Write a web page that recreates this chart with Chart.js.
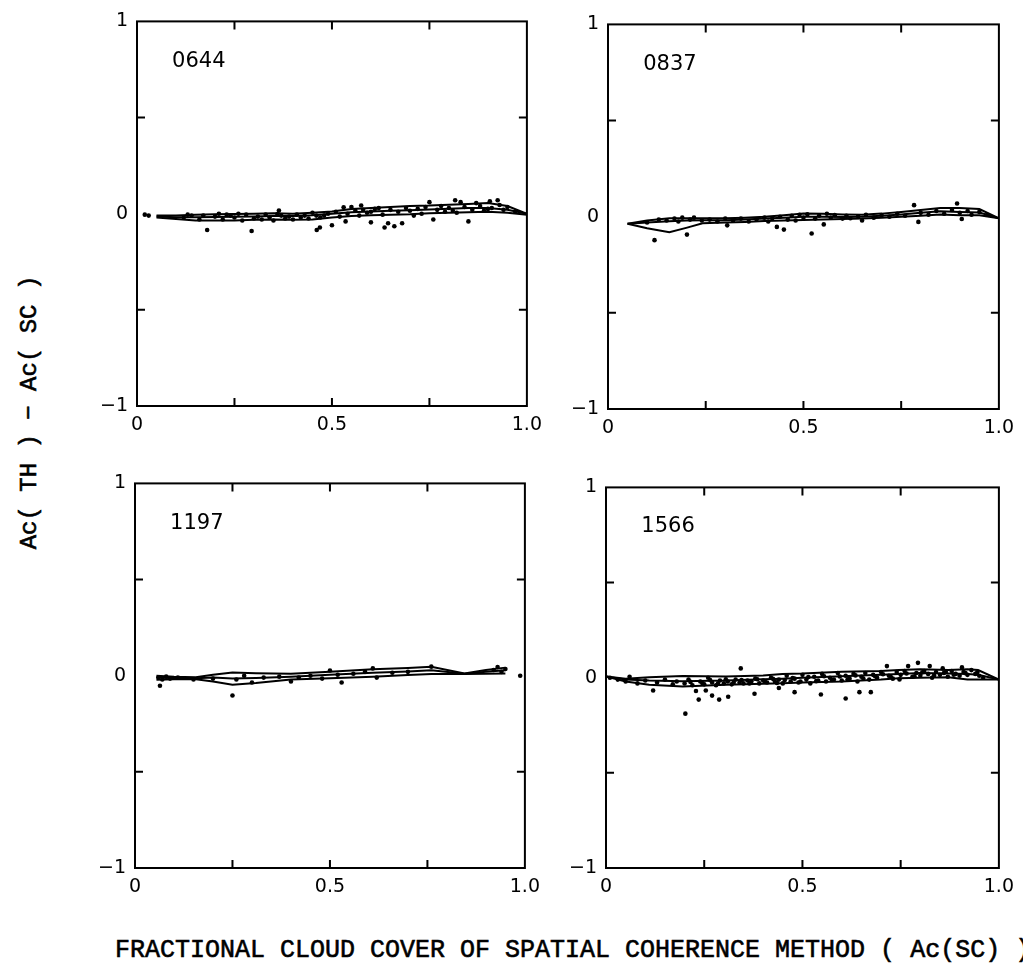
<!DOCTYPE html>
<html>
<head>
<meta charset="utf-8">
<script src="https://cdn.jsdelivr.net/npm/chart.js@4.4.1/dist/chart.umd.min.js"></script>
<style>
  body { margin: 0; background: #fff; overflow: hidden; width: 1023px; height: 973px; position: relative; }
  canvas { position: absolute; }
  .title { position: absolute; font-family: "Liberation Mono", monospace; font-size: 25px; line-height: 25px; color: #000; white-space: nowrap; -webkit-text-stroke: 0.6px #000; }
</style>
</head>
<body>
<canvas id="c0644"></canvas>
<canvas id="c0837"></canvas>
<canvas id="c1197"></canvas>
<canvas id="c1566"></canvas>
<div class="title" id="xtitle" style="left:115px; top:938px;">FRACTIONAL CLOUD COVER OF SPATIAL COHERENCE METHOD ( Ac(SC) )</div>
<div class="title" id="ytitle" style="left:-171px; top:400px; width:400px; text-align:center; font-size:24px; transform:rotate(-90deg);">Ac( TH ) &minus; Ac( SC )</div>
<script>
// tick marks
const xMinor = [0.25, 0.5, 0.75];
const yMinor = [-0.5, 0.5];

// ---- 0644 ----
const l0644_x     = [0.05, 0.1, 0.15, 0.2, 0.25, 0.3, 0.35, 0.4, 0.45, 0.5, 0.55, 0.6, 0.65, 0.7, 0.75, 0.8, 0.85, 0.9, 0.95, 1.0];
const l0644_upper = [-0.01, -0.01, -0.005, -0.003, -0.002, 0, 0.002, 0.0, 0.005, 0.012, 0.025, 0.03, 0.035, 0.04, 0.042, 0.047, 0.05, 0.055, 0.04, 0.0];
const l0644_mean  = [-0.015, -0.018, -0.018, -0.017, -0.016, -0.014, -0.012, -0.012, -0.008, 0.0, 0.008, 0.012, 0.015, 0.018, 0.022, 0.026, 0.03, 0.03, 0.02, 0.0];
const l0644_lower = [-0.02, -0.028, -0.035, -0.035, -0.035, -0.032, -0.03, -0.032, -0.03, -0.02, -0.012, -0.008, -0.005, -0.003, 0.002, 0.005, 0.008, 0.01, 0.005, -0.005];
const d0644_x = [0.02, 0.03, 0.12, 0.13, 0.14, 0.16, 0.17, 0.18, 0.2, 0.21, 0.22, 0.23, 0.24, 0.25, 0.26, 0.27, 0.28, 0.294, 0.3, 0.31, 0.32, 0.33, 0.34, 0.35, 0.36, 0.364, 0.37, 0.38, 0.39, 0.4, 0.41, 0.42, 0.43, 0.44, 0.45, 0.46, 0.461, 0.469, 0.47, 0.48, 0.49, 0.5, 0.51, 0.52, 0.53, 0.535, 0.54, 0.55, 0.56, 0.57, 0.575, 0.58, 0.59, 0.6, 0.6, 0.61, 0.62, 0.63, 0.635, 0.644, 0.65, 0.66, 0.67, 0.68, 0.69, 0.7, 0.71, 0.72, 0.73, 0.74, 0.75, 0.76, 0.77, 0.78, 0.79, 0.8, 0.81, 0.816, 0.82, 0.83, 0.84, 0.85, 0.86, 0.87, 0.88, 0.89, 0.9, 0.905, 0.91, 0.925, 0.93, 0.94, 0.95, 0.97];
const d0644_y = [-0.005, -0.01, -0.02, -0.005, -0.01, -0.03, -0.01, -0.085, -0.015, 0.0, -0.03, -0.005, -0.01, -0.02, 0.0, -0.035, -0.005, -0.09, -0.025, -0.015, -0.03, -0.005, -0.02, -0.035, -0.002, 0.016, -0.01, -0.025, -0.015, -0.03, -0.005, -0.02, -0.01, -0.025, 0.005, -0.01, -0.085, -0.072, -0.02, -0.01, 0.0, -0.06, 0.01, -0.015, 0.033, -0.04, 0.0, 0.035, 0.015, -0.01, 0.043, 0.02, 0.005, -0.045, 0.01, 0.025, 0.03, -0.005, -0.072, -0.05, 0.02, -0.065, 0.01, -0.05, 0.03, 0.015, -0.01, 0.025, 0.0, 0.035, 0.06, -0.03, 0.02, 0.04, 0.01, 0.03, 0.015, 0.07, 0.005, 0.06, 0.035, -0.04, 0.02, 0.055, 0.04, 0.015, 0.025, 0.065, 0.03, 0.07, 0.045, 0.02, 0.035, 0.01];

// ---- 0837 ----
const l0837_x     = [0.05, 0.1, 0.157, 0.2, 0.242, 0.3, 0.35, 0.4, 0.45, 0.5, 0.55, 0.6, 0.65, 0.7, 0.75, 0.8, 0.85, 0.9, 0.95, 1.0];
const l0837_upper = [-0.037, -0.02, -0.008, -0.008, -0.008, -0.008, -0.005, 0.0, 0.008, 0.016, 0.015, 0.012, 0.01, 0.016, 0.025, 0.035, 0.045, 0.045, 0.04, -0.008];
const l0837_mean  = [-0.037, -0.03, -0.024, -0.02, -0.018, -0.018, -0.015, -0.01, -0.005, 0.0, 0.0, -0.002, 0.0, 0.005, 0.012, 0.02, 0.028, 0.025, 0.022, -0.008];
const l0837_lower = [-0.037, -0.06, -0.081, -0.058, -0.034, -0.03, -0.027, -0.022, -0.02, -0.017, -0.015, -0.012, -0.01, -0.005, 0.0, 0.005, 0.011, 0.008, 0.007, -0.008];
const d0837_x = [0.1, 0.119, 0.13, 0.15, 0.17, 0.18, 0.19, 0.202, 0.21, 0.22, 0.24, 0.26, 0.28, 0.3, 0.305, 0.32, 0.34, 0.36, 0.38, 0.4, 0.41, 0.42, 0.432, 0.44, 0.45, 0.46, 0.47, 0.48, 0.49, 0.5, 0.51, 0.521, 0.53, 0.54, 0.552, 0.56, 0.57, 0.58, 0.6, 0.61, 0.62, 0.64, 0.65, 0.66, 0.68, 0.7, 0.72, 0.74, 0.76, 0.783, 0.794, 0.8, 0.82, 0.84, 0.86, 0.88, 0.893, 0.9, 0.905, 0.92, 0.93, 0.95, 0.97];
const d0837_y = [-0.03, -0.122, -0.015, -0.02, -0.01, -0.025, -0.005, -0.093, -0.015, -0.005, -0.02, -0.015, -0.025, -0.01, -0.045, -0.02, -0.01, -0.025, -0.015, -0.005, -0.025, -0.01, -0.053, 0.0, -0.067, -0.015, 0.005, -0.02, 0.01, -0.005, 0.012, -0.087, -0.01, 0.005, -0.04, 0.015, -0.005, 0.008, -0.01, 0.005, -0.008, 0.002, -0.02, 0.01, -0.005, 0.008, 0.0, 0.015, 0.005, 0.06, -0.027, 0.02, 0.01, 0.03, 0.015, 0.035, 0.069, 0.02, -0.012, 0.03, 0.01, 0.025, 0.01];

// ---- 1197 ----
const l1197_x     = [0.055, 0.1, 0.156, 0.2, 0.25, 0.31, 0.4, 0.5, 0.61, 0.7, 0.76, 0.845, 0.9, 0.95];
const l1197_upper = [0.0, -0.005, -0.008, 0.005, 0.016, 0.013, 0.01, 0.021, 0.033, 0.04, 0.047, 0.012, 0.03, 0.042];
const l1197_mean  = [-0.01, -0.012, -0.013, -0.01, -0.015, -0.012, -0.005, 0.005, 0.015, 0.022, 0.028, 0.01, 0.02, 0.028];
const l1197_lower = [-0.021, -0.018, -0.018, -0.03, -0.047, -0.038, -0.02, -0.013, -0.005, 0.003, 0.009, 0.009, 0.01, 0.012];
const d1197_x = [0.06, 0.064, 0.07, 0.08, 0.09, 0.11, 0.15, 0.2, 0.25, 0.26, 0.28, 0.3, 0.33, 0.37, 0.4, 0.42, 0.45, 0.48, 0.5, 0.52, 0.53, 0.56, 0.59, 0.61, 0.62, 0.66, 0.7, 0.76, 0.92, 0.93, 0.94, 0.95, 0.988];
const d1197_y = [-0.01, -0.052, -0.02, -0.005, -0.015, -0.01, -0.02, -0.015, -0.103, -0.02, 0.0, -0.035, -0.01, -0.005, -0.03, -0.01, 0.0, -0.015, 0.027, 0.005, -0.035, 0.01, 0.02, 0.038, -0.01, 0.015, 0.02, 0.047, 0.03, 0.045, 0.02, 0.035, 0.0];

// ---- 1566 ----
const l1566_x     = [0.0, 0.05, 0.11, 0.195, 0.305, 0.4, 0.449, 0.5, 0.6, 0.7, 0.745, 0.8, 0.871, 0.92, 0.947, 1.0];
const l1566_upper = [0.006, -0.005, 0.002, 0.009, 0.006, 0.012, 0.02, 0.022, 0.031, 0.035, 0.04, 0.045, 0.04, 0.045, 0.04, -0.01];
const l1566_mean  = [0.006, -0.01, -0.015, -0.018, -0.015, -0.008, -0.005, 0.0, 0.008, 0.015, 0.02, 0.025, 0.022, 0.02, 0.015, -0.01];
const l1566_lower = [0.006, -0.02, -0.037, -0.046, -0.037, -0.032, -0.029, -0.025, -0.02, -0.01, -0.003, 0.0, 0.002, -0.01, -0.01, -0.01];
const d1566_x = [0.01, 0.03, 0.05, 0.06, 0.08, 0.1, 0.12, 0.13, 0.15, 0.17, 0.18, 0.2, 0.202, 0.21, 0.22, 0.229, 0.236, 0.24, 0.25, 0.254, 0.26, 0.27, 0.27, 0.28, 0.288, 0.29, 0.3, 0.31, 0.311, 0.32, 0.33, 0.34, 0.343, 0.35, 0.36, 0.37, 0.378, 0.38, 0.39, 0.4, 0.41, 0.42, 0.43, 0.44, 0.44, 0.45, 0.46, 0.47, 0.48, 0.48, 0.49, 0.5, 0.51, 0.52, 0.53, 0.54, 0.547, 0.55, 0.56, 0.57, 0.58, 0.59, 0.6, 0.61, 0.61, 0.62, 0.63, 0.64, 0.645, 0.65, 0.66, 0.67, 0.674, 0.68, 0.69, 0.7, 0.715, 0.72, 0.73, 0.74, 0.747, 0.75, 0.76, 0.769, 0.78, 0.79, 0.794, 0.8, 0.81, 0.82, 0.824, 0.83, 0.84, 0.85, 0.857, 0.86, 0.87, 0.88, 0.89, 0.9, 0.906, 0.91, 0.92, 0.93, 0.94, 0.95, 0.96,
  0.215, 0.245, 0.265, 0.285, 0.305, 0.325, 0.345, 0.365, 0.385, 0.405, 0.425, 0.435, 0.455, 0.475, 0.495, 0.515, 0.535, 0.555, 0.575, 0.595, 0.615, 0.635, 0.655, 0.685, 0.705, 0.725, 0.765, 0.785, 0.805, 0.835, 0.865, 0.885, 0.915, 0.945];
const d1566_y = [0.0, -0.01, -0.02, 0.005, -0.03, -0.015, -0.067, -0.025, -0.01, -0.035, -0.02, -0.03, -0.189, -0.01, -0.04, -0.07, -0.115, -0.02, -0.035, -0.067, 0.0, -0.094, -0.025, -0.04, -0.115, -0.015, -0.03, -0.02, -0.1, -0.035, -0.01, -0.025, 0.049, -0.03, -0.015, -0.02, -0.084, -0.005, -0.03, -0.015, -0.025, 0.0, -0.02, -0.054, -0.01, -0.03, 0.01, -0.02, -0.076, -0.005, -0.025, 0.015, -0.01, -0.03, 0.005, -0.015, -0.088, 0.02, -0.02, 0.0, -0.01, 0.025, -0.015, -0.109, 0.01, -0.005, 0.02, -0.02, -0.076, 0.005, 0.025, -0.01, -0.076, 0.015, 0.0, 0.03, 0.061, 0.01, -0.005, 0.03, -0.009, 0.015, 0.035, 0.061, 0.005, 0.025, 0.078, 0.01, 0.035, 0.02, 0.061, 0.0, 0.03, 0.015, 0.049, 0.025, 0.005, 0.035, 0.02, 0.01, 0.054, 0.03, 0.015, 0.04, 0.02, 0.01, 0.0,
  -0.022, -0.028, -0.012, -0.03, -0.008, -0.027, -0.012, -0.03, -0.008, -0.022, -0.006, -0.028, -0.012, -0.002, -0.02, 0.004, -0.018, 0.008, -0.012, 0.006, -0.008, 0.012, -0.004, 0.008, 0.018, 0.004, 0.022, 0.008, 0.028, 0.012, 0.03, 0.016, 0.024, 0.028];

function pts(xs, ys) {
  return xs.map((x, i) => ({ x: x, y: ys[i] }));
}

const frame = {
  id: 'frame',
  afterDatasetsDraw(chart, args, opts) {
    const ctx = chart.ctx;
    const a = chart.chartArea;
    const x = chart.scales.x, y = chart.scales.y;
    ctx.save();
    ctx.strokeStyle = '#000';
    ctx.lineWidth = 2;
    ctx.strokeRect(a.left, a.top, a.right - a.left, a.bottom - a.top);
    ctx.beginPath();
    xMinor.forEach(v => {
      const px = x.getPixelForValue(v);
      ctx.moveTo(px, a.bottom); ctx.lineTo(px, a.bottom - 8);
      ctx.moveTo(px, a.top); ctx.lineTo(px, a.top + 8);
    });
    yMinor.forEach(v => {
      const py = y.getPixelForValue(v);
      ctx.moveTo(a.left, py); ctx.lineTo(a.left + 8, py);
      ctx.moveTo(a.right, py); ctx.lineTo(a.right - 8, py);
    });
    ctx.stroke();
    ctx.fillStyle = '#000';
    ctx.font = '21px "DejaVu Sans"';
    ctx.textBaseline = 'alphabetic';
    ctx.fillText(opts.label, x.getPixelForValue(0.09), y.getPixelForValue(0.765));
    ctx.restore();
  }
};

function lineSet(xs, ys) {
  return { data: pts(xs, ys), showLine: true, borderColor: '#000', borderWidth: 2, pointRadius: 0, fill: false };
}

function makePanel(id, label, box, lx, up, mean, low, dx, dy) {
  const cv = document.getElementById(id);
  const padL = 60, padT = 14, padR = 20, padB = 45;
  cv.width = box.w + padL + padR;
  cv.height = box.h + padT + padB;
  cv.style.left = (box.left - padL) + 'px';
  cv.style.top = (box.top - padT) + 'px';
  new Chart(cv, {
    type: 'scatter',
    data: {
      datasets: [
        lineSet(lx, up),
        lineSet(lx, mean),
        lineSet(lx, low),
        { data: pts(dx, dy), pointRadius: 2.3, pointBackgroundColor: '#000', pointBorderWidth: 0, showLine: false }
      ]
    },
    options: {
      responsive: false,
      animation: false,
      layout: { padding: { top: padT, right: padR, left: 0, bottom: 0 } },
      plugins: { legend: { display: false }, tooltip: { enabled: false }, frame: { label: label } },
      scales: {
        x: {
          type: 'linear', min: 0, max: 1,
          grid: { display: false, drawTicks: false },
          border: { display: false },
          afterFit: s => { s.height = padB; },
          ticks: {
            stepSize: 0.25, autoSkip: false, maxRotation: 0, padding: 8,
            color: '#000', font: { family: 'DejaVu Sans', size: 19 },
            callback: v => v === 0 ? '0' : v === 0.5 ? '0.5' : v === 1 ? '1.0' : ''
          }
        },
        y: {
          type: 'linear', min: -1, max: 1,
          grid: { display: false, drawTicks: false },
          border: { display: false },
          afterFit: s => { s.width = padL; },
          ticks: {
            stepSize: 0.5, autoSkip: false, padding: 9,
            color: '#000', font: { family: 'DejaVu Sans', size: 19 },
            callback: v => v === 1 ? '1' : v === 0 ? '0' : v === -1 ? '\u22121' : ''
          }
        }
      }
    },
    plugins: [frame]
  });
}

makePanel('c0644', '0644', { left: 137, top: 15, w: 393, h: 391 }, l0644_x, l0644_upper, l0644_mean, l0644_lower, d0644_x, d0644_y);
makePanel('c0837', '0837', { left: 608, top: 18, w: 394, h: 391 }, l0837_x, l0837_upper, l0837_mean, l0837_lower, d0837_x, d0837_y);
makePanel('c1197', '1197', { left: 135, top: 477, w: 393, h: 391 }, l1197_x, l1197_upper, l1197_mean, l1197_lower, d1197_x, d1197_y);
makePanel('c1566', '1566', { left: 606, top: 481, w: 396, h: 387 }, l1566_x, l1566_upper, l1566_mean, l1566_lower, d1566_x, d1566_y);
</script>
</body>
</html>
